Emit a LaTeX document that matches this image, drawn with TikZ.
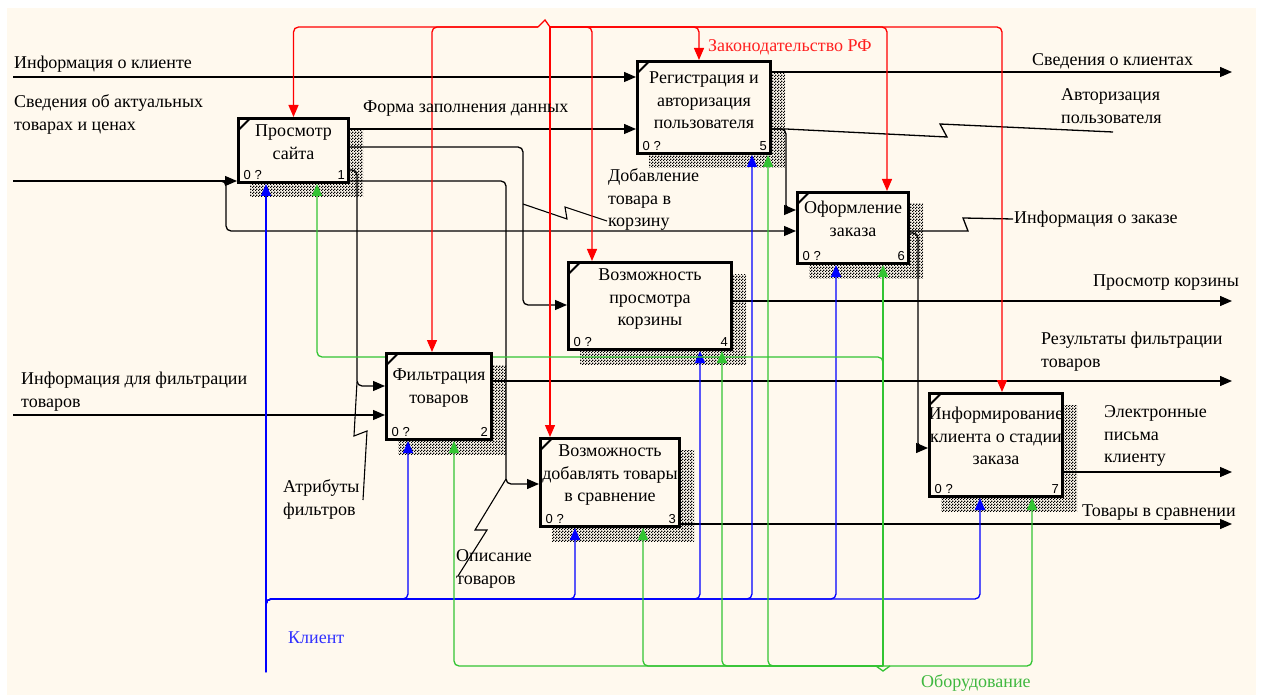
\documentclass[tikz,border=0pt]{standalone}
\usepackage{fontspec}
\setmainfont{Liberation Serif}
\newfontfamily\numfont{Liberation Sans}
\usetikzlibrary{arrows.meta,patterns.meta,backgrounds}
\definecolor{cream}{HTML}{FFF9EE}
\definecolor{rl}{HTML}{FF0000}
\definecolor{bl}{HTML}{0000FF}
\definecolor{gl}{HTML}{33C433}
\definecolor{rt}{HTML}{FF2020}
\definecolor{bt}{HTML}{3030FF}
\definecolor{gt}{HTML}{40B840}
\newcommand{\lbl}{\fontsize{18}{22.5}\selectfont}
\newcommand{\nfs}{\numfont\fontsize{13}{13}\selectfont}
\tikzdeclarepattern{
  name=chk,
  type=uncolored,
  bounding box={(0pt,0pt) and (3pt,3pt)},
  tile size={(3pt,3pt)},
  code={
    \fill (0pt,0pt) rectangle (1.5pt,1.5pt);
    \fill (1.5pt,1.5pt) rectangle (3pt,3pt);
  }
}
\tikzset{
  box/.style={draw, line width=3pt, fill=cream, inner sep=0pt},
  ttl/.style={anchor=north, inner sep=0pt, align=center, font=\lbl},
  lab/.style={anchor=north west, inner sep=0pt, align=left, font=\lbl},
  num/.style={inner sep=0pt, font=\nfs},
  shd/.style={pattern=chk, pattern color=black},
  arr/.style={-{Triangle[length=12pt,width=10pt]}},
  blk/.style={draw=black, line width=1.3pt, rounded corners=5pt},
  sq/.style={draw=black, line width=1.1pt},
  redl/.style={draw=rl, line width=1.3pt, rounded corners=5pt},
  bll/.style={draw=bl, line width=1.3pt, rounded corners=5pt},
  grl/.style={draw=gl, line width=1.3pt, rounded corners=5pt},
}
\begin{document}
\begin{tikzpicture}[x=1pt,y=-1pt]
\useasboundingbox (0,0) rectangle (1261,695);
% boxes
\node[box, minimum width=110pt, minimum height=64pt] (b1) at (293.5,150.5) {};
\node[box, minimum width=105pt, minimum height=86pt] (b2) at (439,396.5) {};
\node[box, minimum width=139pt, minimum height=88pt] (b3) at (610,482.5) {};
\node[box, minimum width=163pt, minimum height=87pt] (b4) at (650,306) {};
\node[box, minimum width=133pt, minimum height=92pt] (b5) at (704,107.5) {};
\node[box, minimum width=111pt, minimum height=71pt] (b6) at (853,228) {};
\node[box, minimum width=133pt, minimum height=103pt] (b7) at (996,445) {};

\coordinate (i1) at (13,77);
\coordinate (i2) at (13,181);
\coordinate (i3) at (13,415);
\coordinate (o1) at (1232,72);
\coordinate (o2) at (1232,301);
\coordinate (o3) at (1232,381);
\coordinate (o4) at (1232,472);
\coordinate (o5) at (1232,524);
\coordinate (e1) at (1113,132);
\coordinate (e2) at (1013,219);
\coordinate (leg) at (550,27);
\coordinate (legL) at (538,27);
\coordinate (cs) at (266,672);
\coordinate (cj) at (266,599);
\coordinate (gs) at (883,666);

\begin{scope}[on background layer]
\fill[white] (0,0) rectangle (1261,695);
\fill[cream] (7,8) rectangle (1256,695);
\foreach \b in {b1,b2,b3,b4,b5,b6,b7}
  \fill[shd] ([shift={(13pt,-13pt)}]\b.north west) rectangle ([shift={(13pt,-13pt)}]\b.south east);

% black connectors
\draw[blk,arr] (i1) -- (b5.west |- i1);
\draw[blk,arr] (i2) -- (b1.west |- i2);
\draw[blk,arr] (i2) -| (226,231) -- (b6.west |- 0,231);
\draw[blk,arr] (i3) -- (b2.west |- i3);
\draw[blk,arr] (b1.east |- 0,129) -- (b5.west |- 0,129);
\draw[blk,arr] (b1.east |- 0,147) -- (523,147) -- (523,305) -- (b4.west |- 0,305);
\draw[blk,arr] (b1.east |- 0,181) -- (506,181) -- (506,484) -- (b3.west |- 0,484);
\draw[blk,arr] (b1.east |- 0,170) -- (357,170) -- (357,386) -- (b2.west |- 0,386);
\draw[blk,arr] (b5.east |- o1) -- (o1);
\draw[blk,sharp corners] (b5.east |- 0,129) -- (786,129) -- (947,137) -- (940,124) -- (e1);
\draw[blk,arr] (b5.east |- 0,129) -- (786,129) -- (786,210) -- (b6.west |- 0,210);
\draw[blk,sharp corners] (b6.east |- 0,231) -- (968,231) -- (963,218) -- (e2);
\draw[blk,arr] (b6.east |- 0,233) -- (918,233) -- (918,448) -- (b7.west |- 0,448);
\draw[blk,arr] (b4.east |- o2) -- (o2);
\draw[blk,arr] (b2.east |- o3) -- (o3);
\draw[blk,arr] (b7.east |- o4) -- (o4);
\draw[blk,arr] (b3.east |- o5) -- (o5);
% label squiggles
\draw[sq] (523,204) -- (567,219) -- (565,207) -- (607,221);
\draw[sq] (506,479) -- (475,530) -- (487,530) -- (458,576);
\draw[sq] (357,382) -- (354,436) -- (367,431) -- (363,500);

% red controls
\draw[redl,sharp corners] (legL) -- (545,20) -- (leg);
\draw[redl,arr] (legL) -| (b1.north);
\draw[redl,arr] (legL) -| ([xshift=-7pt]b2.north);
\draw[redl,arr] (leg) -- (leg |- b3.north);
\draw[redl,arr] (leg) -| ([xshift=-58pt]b4.north);
\draw[redl,arr] (leg) -| ([xshift=-5pt]b5.north);
\draw[redl,arr] (leg) -| ([xshift=34pt]b6.north);
\draw[redl,arr] (leg) -| ([xshift=6pt]b7.north);

% blue mechanisms
\draw[bll,arr] (cs) -- (cs |- b1.south);
\draw[bll,arr] (cs) -- (cj) -| ([xshift=-31pt]b2.south);
\draw[bll,arr] (cs) -- (cj) -| ([xshift=-35pt]b3.south);
\draw[bll,arr] (cs) -- (cj) -| ([xshift=50pt]b4.south);
\draw[bll,arr] (cs) -- (cj) -| ([xshift=48pt]b5.south);
\draw[bll,arr] (cs) -- (cj) -| ([xshift=-17pt]b6.south);
\draw[bll,arr] (cs) -- (cj) -| ([xshift=-16pt]b7.south);

% green mechanisms
\draw[grl,sharp corners] (876,666) -- (883,671) -- (890,666);
\draw[grl,arr] (gs) -- (gs |- b6.south);
\draw[grl,arr] (gs) -| ([xshift=15pt]b2.south);
\draw[grl,arr] (gs) -| ([xshift=33pt]b3.south);
\draw[grl,arr] (gs) -| ([xshift=72pt]b4.south);
\draw[grl,arr] (gs) -| ([xshift=64pt]b5.south);
\draw[grl,arr] (gs) -| ([xshift=36pt]b7.south);
\draw[grl,arr] (gs) -- (883,357) -| ([xshift=23.5pt]b1.south);
\end{scope}

% corner marks
\foreach \b in {b1,b2,b3,b4,b5,b6,b7}
  \draw[line width=2pt] ([shift={(1.5pt,-13pt)}]\b.north west) -- ([shift={(13pt,-1.5pt)}]\b.north west);

% box titles
\node[ttl] (t1) at (b1.north |- 0,121) {\strut Просмотр\\сайта};
\node[ttl] (t5) at (b5.north |- 0,68) {\strut Регистрация и\\авторизация\\пользователя};
\node[ttl] (t6) at (b6.north |- 0,198) {\strut Оформление\\заказа};
\node[ttl] (t4) at (b4.north |- 0,265) {\strut Возможность\\просмотра\\корзины};
\node[ttl] (t2) at (b2.north |- 0,365) {\strut Фильтрация\\товаров};
\node[ttl] (t3) at (b3.north |- 0,441) {\strut Возможность\\добавлять товары\\в сравнение};
\node[ttl] (t7) at (b7.north |- 0,404) {\strut Информирование\\клиента о стадии\\заказа};

% corner numbers
\foreach \b/\n in {b1/1,b2/2,b3/3,b4/4,b5/5,b6/6,b7/7}{
  \node[num, anchor=base west] at ([shift={(6.5pt,4.5pt)}]\b.south west) {0 ?};
  \node[num, anchor=base east] at ([shift={(-5pt,4.5pt)}]\b.south east) {\n};
}

% labels
\node[lab] (l1) at (14,53) {\strut Информация о клиенте};
\node[lab] (l2) at (14,92) {\strut Сведения об актуальных\\товарах и ценах};
\node[lab] (l3) at (363,97) {\strut Форма заполнения данных};
\node[lab, text=rt] (l4) at (708,36) {\strut Законодательство РФ};
\node[lab] (l5) at (1032,50) {\strut Сведения о клиентах};
\node[lab] (l6) at (1061,85) {\strut Авторизация\\пользователя};
\node[lab] (l7) at (608,166) {\strut Добавление\\товара в\\корзину};
\node[lab] (l8) at (1014,208) {\strut Информация о заказе};
\node[lab] (l9) at (1093,271) {\strut Просмотр корзины};
\node[lab] (l10) at (1041,329) {\strut Результаты фильтрации\\товаров};
\node[lab] (l11) at (1104,402) {\strut Электронные\\письма\\клиенту};
\node[lab] (l12) at (1082,501) {\strut Товары в сравнении};
\node[lab] (l13) at (21,369) {\strut Информация для фильтрации\\товаров};
\node[lab] (l14) at (283,477) {\strut Атрибуты\\фильтров};
\node[lab] (l15) at (456,546) {\strut Описание\\товаров};
\node[lab, text=bt] (l16) at (288,628) {\strut Клиент};
\node[lab, text=gt] (l17) at (921,672) {\strut Оборудование};
\end{tikzpicture}
\end{document}
